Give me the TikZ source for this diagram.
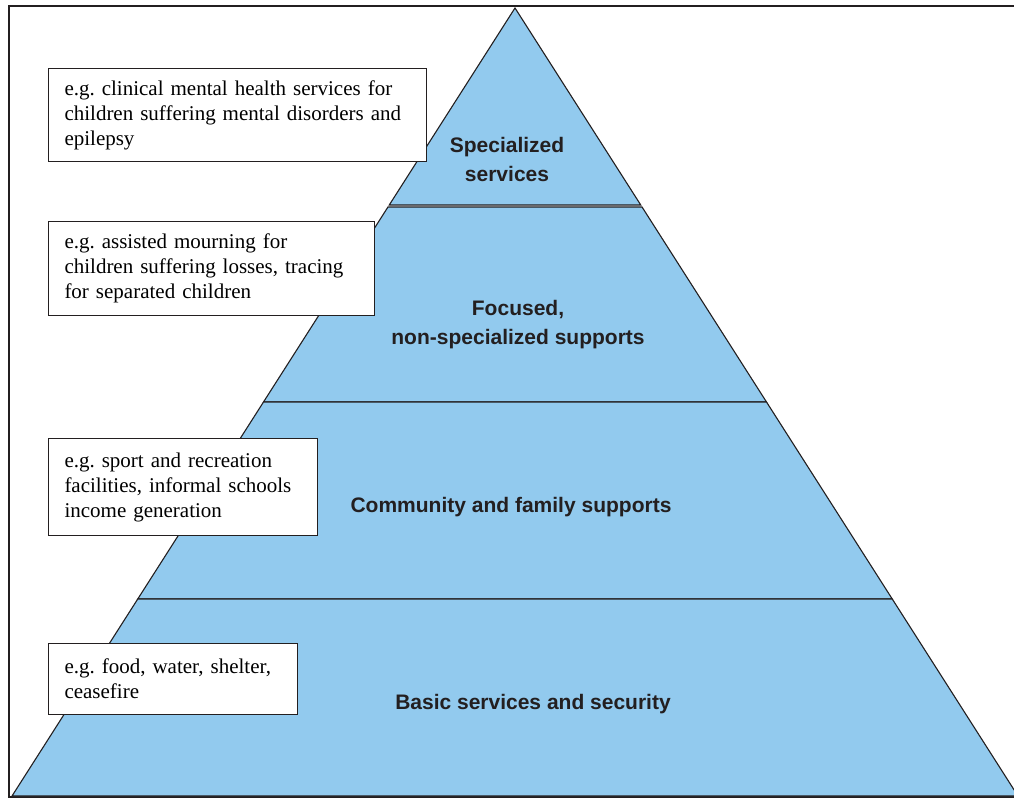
\documentclass[tikz,border=0pt]{standalone}
\usepackage{fontspec}
\setmainfont{Liberation Serif}
\setsansfont{Liberation Sans}
\usetikzlibrary{calc}
\definecolor{pyrblue}{RGB}{146,202,238}
\definecolor{inkgray}{RGB}{35,31,32}
\frenchspacing
\tikzset{
layer/.style={draw=inkgray, line width=1.1pt, fill=pyrblue, line join=miter}, % one tier of the pyramid
example/.style={draw=inkgray, line width=1pt, fill=white, anchor=north west, align=left,
  inner xsep=16pt, inner ysep=0pt, font=\fontsize{21}{25}\selectfont}, % boxes with examples on the left
level/.style={font=\sffamily\bfseries\fontsize{21}{29}\selectfont, text=inkgray, align=center}, % tier names
}

\begin{document}
\begin{tikzpicture}[x=1pt, y=-1pt]
                \useasboundingbox (0,0) rectangle (1014,798);
                \draw[inkgray, line width=1.5pt] (9,6) rectangle (1030,797);

                \coordinate (apex) at (515,8);
                \coordinate (bl) at (12,796);
                \coordinate (br) at (1018,796);
                % the four tiers, from the top down
                \foreach \a/\b in {0/0.25, 0.2525/0.5, 0.5/0.75, 0.75/1}
                    \draw[layer] ($(apex)!\a!(bl)$) -- ($(apex)!\b!(bl)$) -- ($(apex)!\b!(br)$) -- ($(apex)!\a!(br)$) -- cycle;

                \node[level] (specialized) at (507,159) {Specialized\\services};
                \node[level] (focused) at (518,325) {Focused,\\non-specialized supports};
                \node[level] (community) at (511,507) {Community and family supports};
                \node[level] (basic) at (533,704) {Basic services and security};

                \node[example, text width=346pt, minimum height=93pt] (ex_specialized) at (48,68)
                    {e.g. clinical mental health services for\\children suffering mental disorders and\\epilepsy};
                \node[example, text width=294pt, minimum height=94pt] (ex_focused) at (48,221)
                    {e.g. assisted mourning for\\children suffering losses, tracing\\for separated children};
                \node[example, text width=237pt, minimum height=97pt] (ex_community) at (48,438)
                    {e.g. sport and recreation\\facilities, informal schools\\income generation};
                \node[example, text width=217pt, minimum height=71pt] (ex_basic) at (48,643)
                    {e.g. food, water, shelter,\\ceasefire};
\end{tikzpicture}
\end{document}
